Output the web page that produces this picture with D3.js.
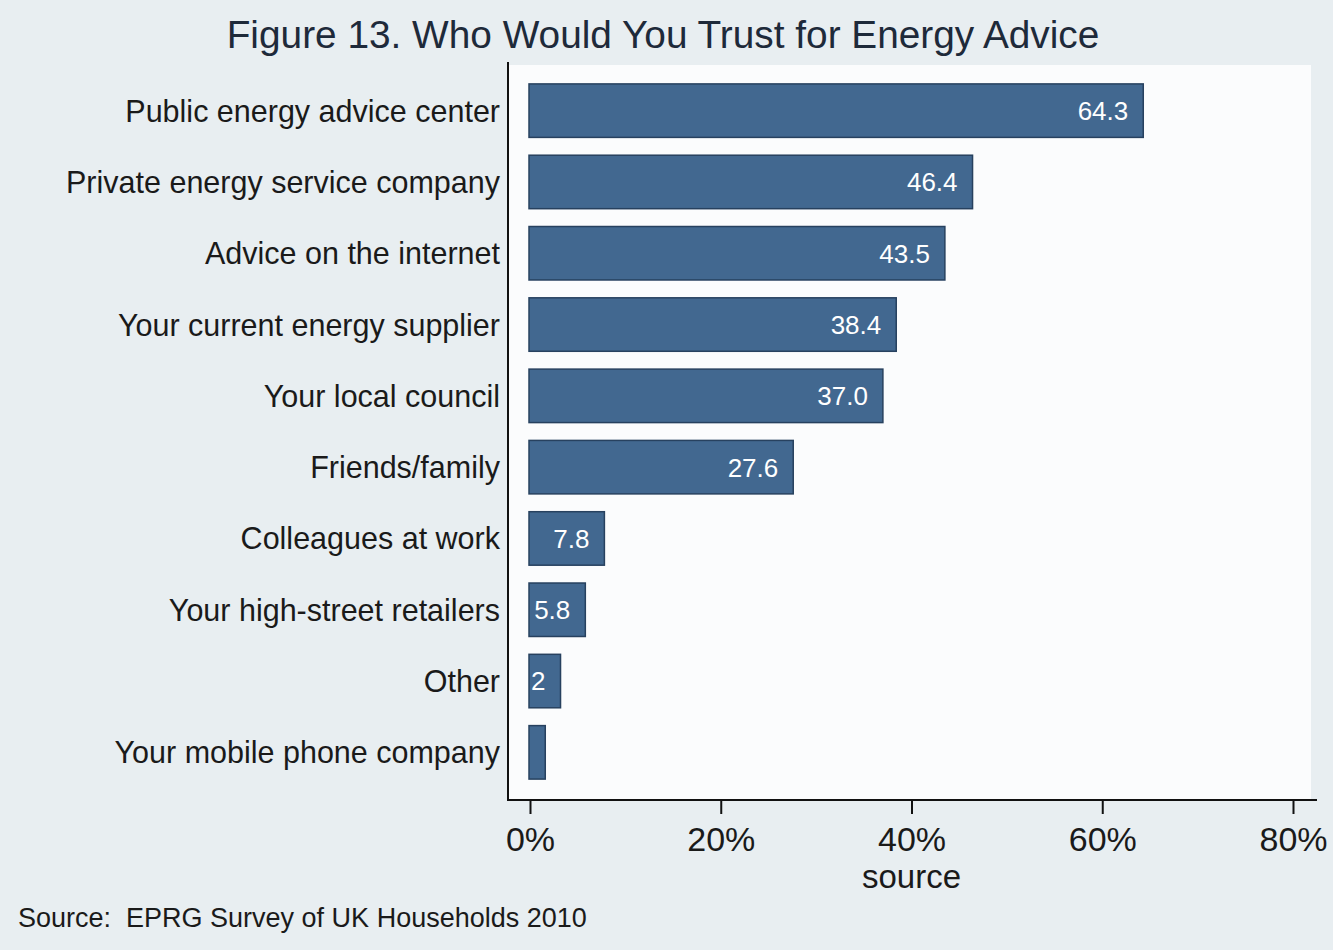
<!DOCTYPE html>
<html>
<head>
<meta charset="utf-8">
<script src="https://cdn.jsdelivr.net/npm/d3@7"></script>
<style>
  html, body { margin: 0; padding: 0; background: #e8eef1; }
  svg { display: block; }
  text { font-family: "Liberation Sans", Arial, "DejaVu Sans", sans-serif; }
</style>
</head>
<body>
<svg id="chart" width="1333" height="950"></svg>
<script>
// ---- data ----
const categories = [
  "Public energy advice center",
  "Private energy service company",
  "Advice on the internet",
  "Your current energy supplier",
  "Your local council",
  "Friends/family",
  "Colleagues at work",
  "Your high-street retailers",
  "Other",
  "Your mobile phone company"
];
const values = [64.3, 46.4, 43.5, 38.4, 37.0, 27.6, 7.8, 5.8, 3.2, 1.6];
const valueLabels = ["64.3", "46.4", "43.5", "38.4", "37.0", "27.6", "7.8", "5.8", "2", ""];
const xTicks = [0, 20, 40, 60, 80];
const titleText = "Figure 13. Who Would You Trust for Energy Advice";
const axisTitle = "source";
const noteText = "Source:  EPRG Survey of UK Households 2010";

// ---- layout ----
const svg = d3.select("#chart");
const W = 1333, H = 950;
const plot = { left: 508, right: 1317, top: 62, bottom: 800 };

svg.append("rect").attr("x", 0).attr("y", 0).attr("width", W).attr("height", H).attr("fill", "#e8eef1");
svg.append("rect").attr("x", plot.left).attr("y", plot.top + 3)
  .attr("width", 1311 - plot.left).attr("height", plot.bottom - plot.top - 3)
  .attr("fill", "#fbfcfd");

const x = d3.scaleLinear().domain([0, 80]).range([530, 1293]);
const y = d3.scaleBand().domain(categories).range([75, 788]).paddingInner(0.25).paddingOuter(0.125);

// bars
svg.append("g").selectAll("rect").data(categories).join("rect")
  .attr("x", x(0) - 1)
  .attr("y", d => y(d))
  .attr("width", (d, i) => x(values[i]) - x(0) + 1)
  .attr("height", y.bandwidth())
  .attr("fill", "#426890")
  .attr("stroke", "#27415f")
  .attr("stroke-width", 1.5);

// value labels inside bars
svg.append("g").selectAll("text").data(categories).join("text")
  .attr("x", (d, i) => x(values[i]) - 15)
  .attr("y", d => y(d) + y.bandwidth() / 2)
  .attr("dy", "0.36em")
  .attr("text-anchor", "end")
  .attr("fill", "#ffffff")
  .attr("font-size", 26)
  .text((d, i) => valueLabels[i]);

// category labels
svg.append("g").selectAll("text").data(categories).join("text")
  .attr("x", 500)
  .attr("y", d => y(d) + y.bandwidth() / 2)
  .attr("dy", "0.36em")
  .attr("text-anchor", "end")
  .attr("fill", "#1a1a1a")
  .attr("font-size", 30.5)
  .text(d => d);

// y axis line
svg.append("line").attr("x1", plot.left).attr("x2", plot.left)
  .attr("y1", plot.top).attr("y2", plot.bottom + 1)
  .attr("stroke", "#111").attr("stroke-width", 2);

// x axis
const xAxis = d3.axisBottom(x).tickValues(xTicks).tickFormat(d => d + "%").tickSize(14).tickSizeOuter(0).tickPadding(13);
const gx = svg.append("g").attr("transform", `translate(0,${plot.bottom})`).call(xAxis);
gx.select(".domain").remove();
gx.selectAll(".tick line").attr("stroke", "#111").attr("stroke-width", 2);
gx.selectAll(".tick text").attr("fill", "#1a1a1a").attr("font-size", 34)
  .attr("font-family", '"Liberation Sans", Arial, sans-serif').attr("dy", "0.72em");
svg.append("line").attr("x1", plot.left - 1).attr("x2", plot.right)
  .attr("y1", plot.bottom).attr("y2", plot.bottom)
  .attr("stroke", "#111").attr("stroke-width", 2);

// axis title
svg.append("text").attr("x", x(40)).attr("y", 888)
  .attr("text-anchor", "middle").attr("font-size", 33).attr("fill", "#1a1a1a")
  .text(axisTitle);

// title
svg.append("text").attr("x", 663).attr("y", 48)
  .attr("text-anchor", "middle").attr("font-size", 38.8).attr("fill", "#1e2a3a")
  .text(titleText);

// note
svg.append("text").attr("x", 18).attr("y", 927)
  .attr("font-size", 27).attr("fill", "#1a1a1a")
  .attr("xml:space", "preserve").style("white-space", "pre")
  .text(noteText);
</script>
</body>
</html>
